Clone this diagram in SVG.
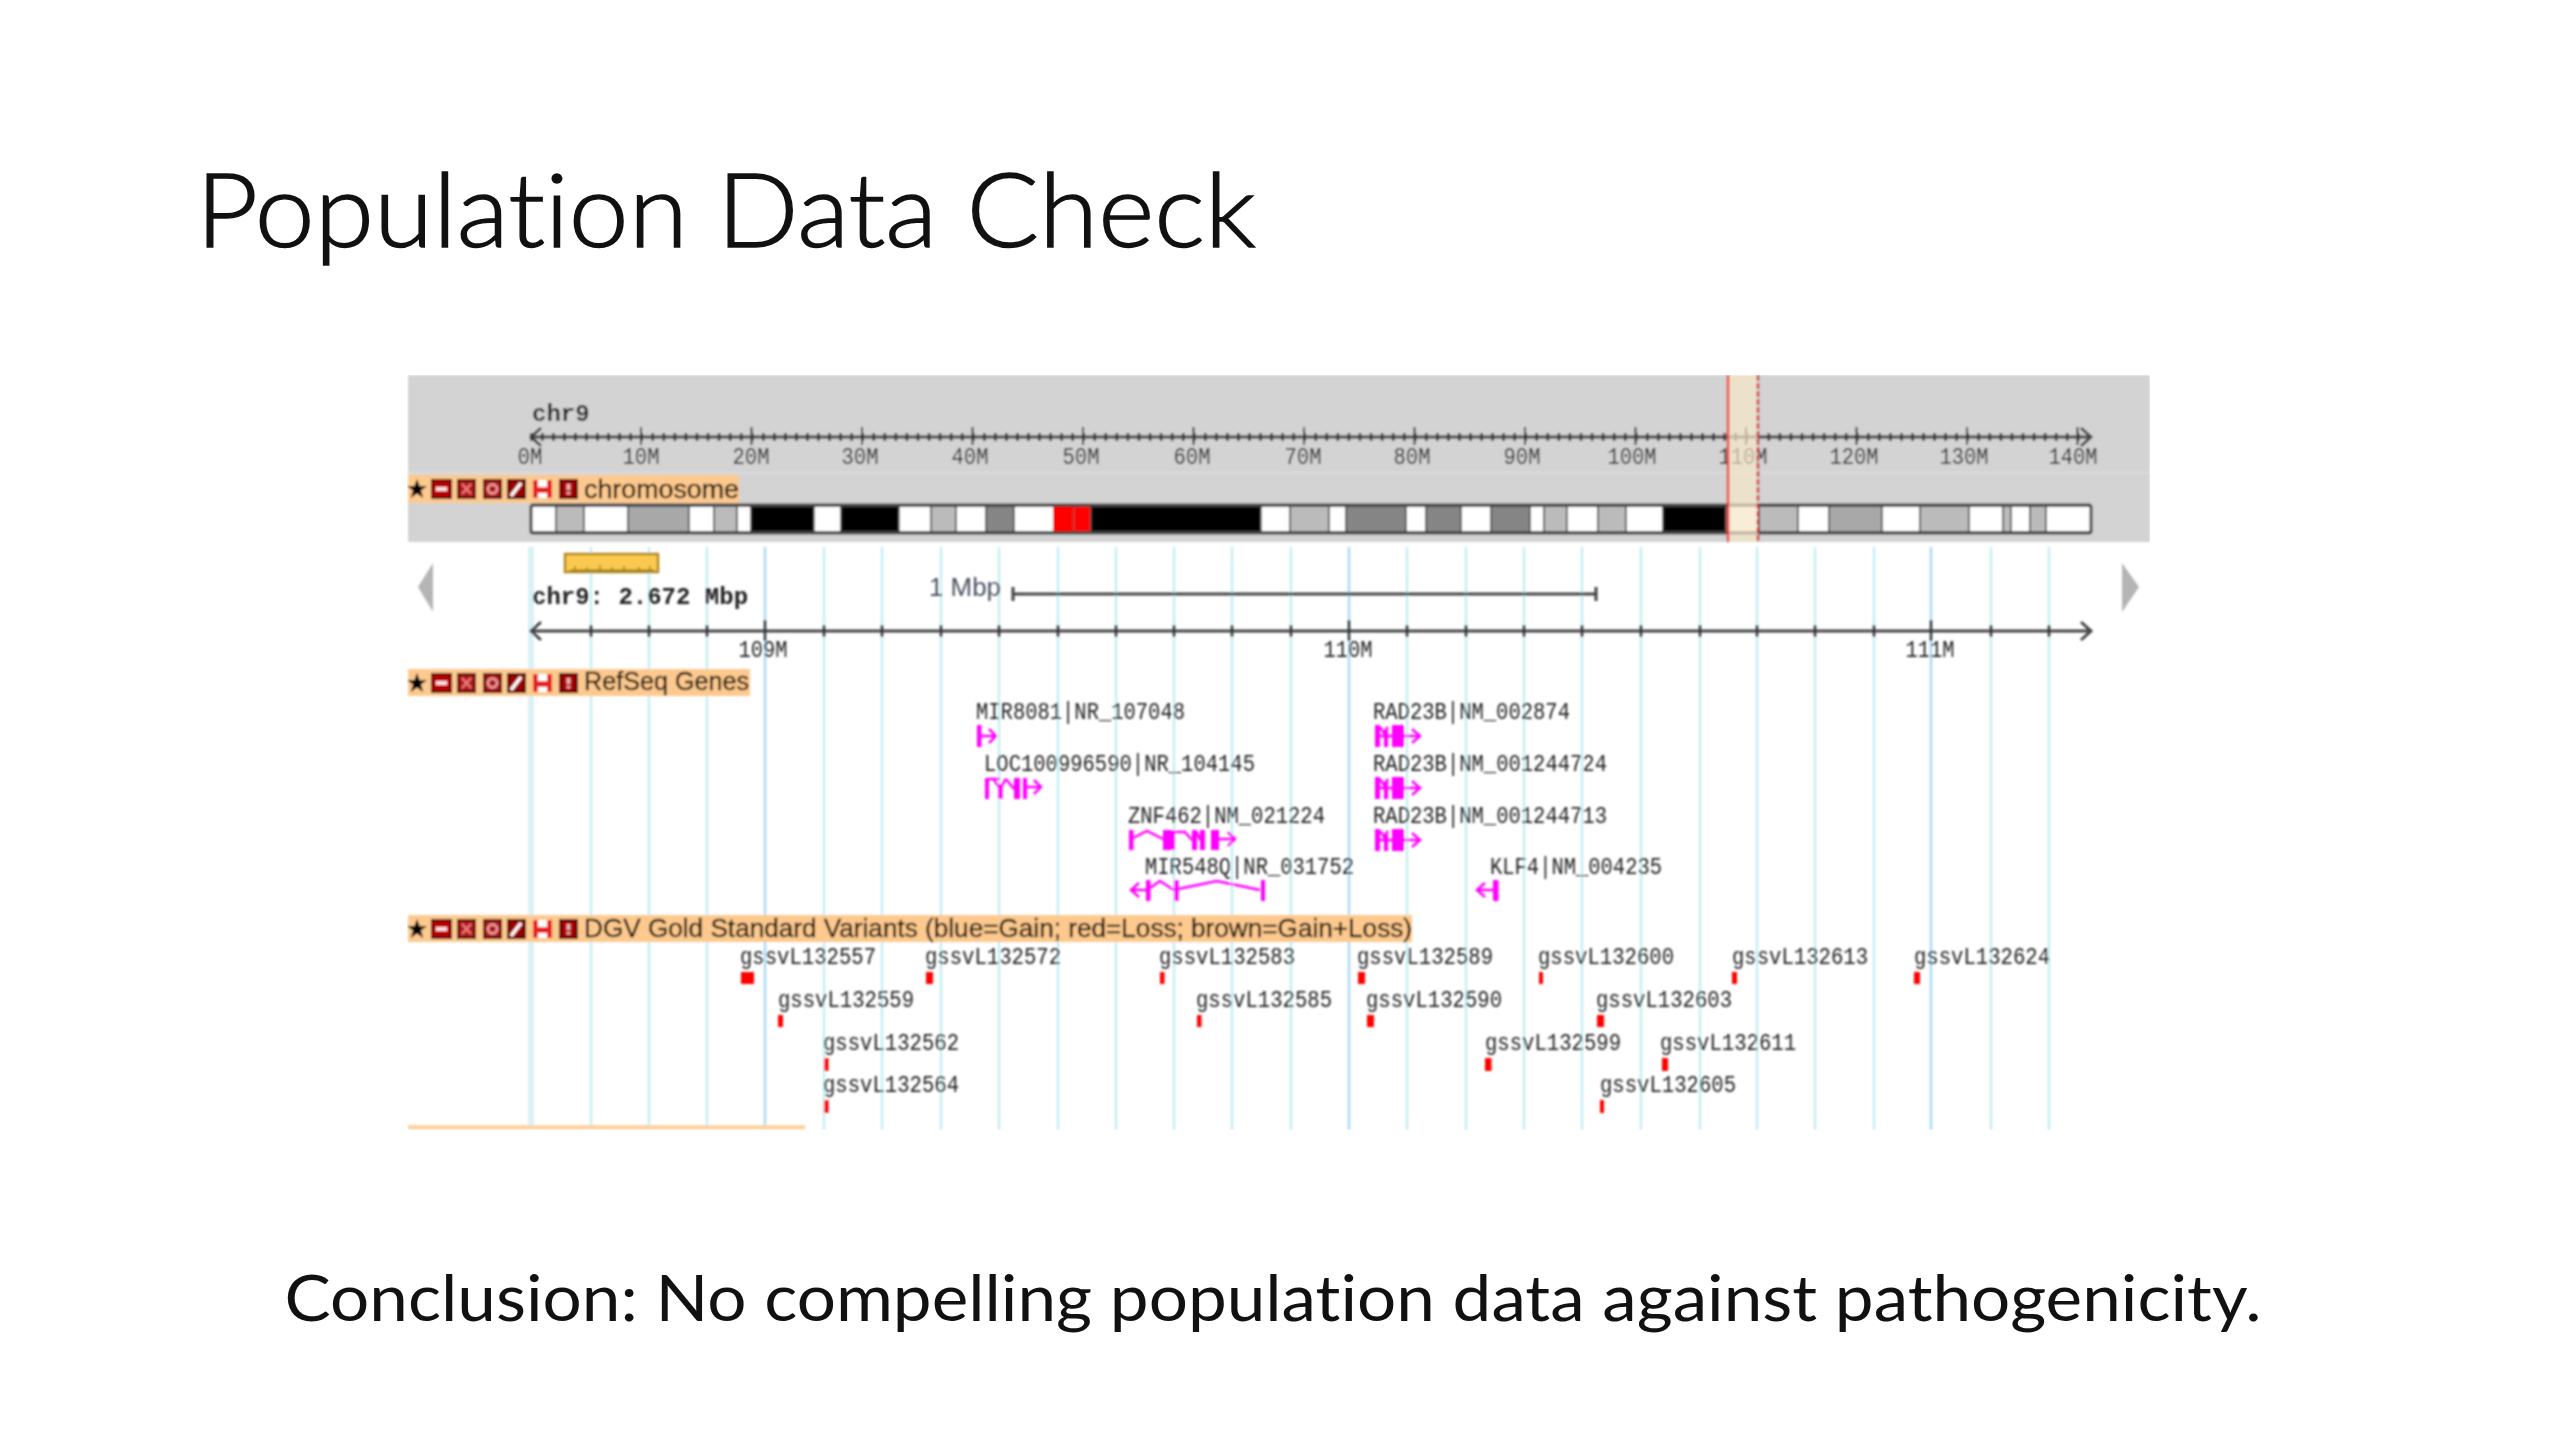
<svg xmlns="http://www.w3.org/2000/svg" xmlns:xlink="http://www.w3.org/1999/xlink" width="2560" height="1440" viewBox="0 0 2560 1440">
<style>
.title{font-family:"Lato","Open Sans",sans-serif;font-weight:300;fill:#111;stroke:#111;stroke-width:1.4;font-variant-ligatures:none}
.concl{font-family:"Lato","Open Sans",sans-serif;font-weight:400;fill:#111;font-variant-ligatures:none}
.m{font-family:"Liberation Mono",monospace;font-size:23px;fill:#222}
.mb{font-family:"Liberation Mono",monospace;font-size:24px;font-weight:700;fill:#222}
.s{font-family:"Liberation Sans",sans-serif;font-size:25px;fill:#120a02;stroke:#120a02;stroke-width:0.3}
.w{fill:#fff}.g1{fill:#bbb}.g2{fill:#a8a8a8}.g3{fill:#858585}.k{fill:#000}.r{fill:#f00}
.b rect{stroke:#444;stroke-width:1.5}
.gl{stroke:#c6eef2;stroke-width:2.5}
.gm{stroke:#a8daf2;stroke-width:2.5}
.ax{stroke:#444;stroke-width:3;fill:none}
.gene{stroke:#f0f;stroke-width:2.5;fill:none}
.genep{stroke:#f0f;stroke-width:2.5;stroke-opacity:0.75;fill:none}
.ex{fill:#f0f}
.tag{fill:#fdc98e}
.red{fill:#f00}
</style>
<defs>
<filter id="soft" x="0" y="0" width="1" height="1" filterUnits="objectBoundingBox"><feGaussianBlur stdDeviation="0.8"/></filter>
<g id="icons">
<polygon points="417,-10 419.6,-3 427,-3 421,1.5 423.2,9 417,4.5 410.8,9 413,1.5 407,-3 414.4,-3" fill="#000"/>
<rect x="432" y="-9" width="19" height="18" fill="#b80000" stroke="#300" stroke-width="2"/><rect x="436" y="-2" width="11" height="4" fill="#fdd"/>
<rect x="458" y="-9" width="17" height="18" fill="#a81818" stroke="#300" stroke-width="2"/><path d="M462,-5L471,5M471,-5L462,5" stroke="#e77" stroke-width="2.5"/>
<rect x="484" y="-9" width="17" height="18" fill="#a81818" stroke="#300" stroke-width="2"/><circle cx="492.500" cy="0" r="4.500" fill="none" stroke="#f0a0a0" stroke-width="2.500"/>
<rect x="508" y="-9" width="17" height="18" fill="#900" stroke="#200" stroke-width="2"/><path d="M511,7L521,-6" stroke="#fff" stroke-width="3.500"/>
<rect x="533" y="-9" width="19" height="18" fill="#e82020"/><rect x="538" y="-9" width="9" height="7" fill="#fff"/><rect x="538" y="4" width="9" height="5" fill="#fff"/>
<rect x="560" y="-9" width="17" height="18" fill="#a00000" stroke="#300" stroke-width="2"/><rect x="566.500" y="-5" width="4" height="6" fill="#f3b0b0"/><rect x="566.500" y="3" width="4" height="2.500" fill="#f3b0b0"/>
</g>
<g id="rad">
<path class="gene" d="M1376,736H1420M1412,729L1420,736L1412,743M1380,727L1384,733L1388,727"/>
<rect class="ex" x="1375" y="725" width="5" height="22"/><rect class="ex" x="1384" y="730" width="4" height="17"/><rect class="ex" x="1392" y="725" width="12" height="22"/>
</g>
</defs>
<rect id="background" x="0" y="0" width="2560" height="1440" fill="#fff"/>
<text id="title" class="title" x="196" y="247" font-size="103" textLength="1060" lengthAdjust="spacingAndGlyphs">Population Data Check</text>
<g id="browser" filter="url(#soft)">
<rect x="408" y="375" width="1742" height="167" fill="#d3d3d3"/>
<rect x="408" y="472" width="1742" height="2" fill="#dcdcdc"/>
<g id="gridlines">
<path stroke="#d9f2f5" stroke-width="6" d="M531,547V1130"/>
<path class="gl" d="M591,547V1130M649,547V1130M707,547V1130M824,547V1130M882,547V1130M941,547V1130M999,547V1130M1058,547V1130M1116,547V1130M1174,547V1130M1232,547V1130M1291,547V1130M1407,547V1130M1466,547V1130M1524,547V1130M1582,547V1130M1641,547V1130M1700,547V1130M1757,547V1130M1815,547V1130M1874,547V1130M1991,547V1130M2049,547V1130"/>
<path class="gm" d="M765,547V1130M1349,547V1130M1931,547V1130"/>
</g>
<g id="chromosome-ruler">
<text class="mb" x="532" y="421">chr9</text>
<path class="ax" d="M531,437H2091M541,428L531,437L541,446M2081,428L2091,437L2081,446"/>
<path stroke="#333" stroke-width="8" stroke-dasharray="2.500 8.550" d="M530,437H2085" fill="none"/>
<path stroke="#333" stroke-width="18" stroke-dasharray="2 108.500" d="M640,436H2080" fill="none"/>
<g class="m" text-anchor="middle">
<text x="530" y="464" textLength="25" lengthAdjust="spacingAndGlyphs">0M</text><text x="641" y="464" textLength="37" lengthAdjust="spacingAndGlyphs">10M</text><text x="751" y="464" textLength="37" lengthAdjust="spacingAndGlyphs">20M</text><text x="860" y="464" textLength="37" lengthAdjust="spacingAndGlyphs">30M</text><text x="970" y="464" textLength="37" lengthAdjust="spacingAndGlyphs">40M</text><text x="1081" y="464" textLength="37" lengthAdjust="spacingAndGlyphs">50M</text><text x="1192" y="464" textLength="37" lengthAdjust="spacingAndGlyphs">60M</text><text x="1303" y="464" textLength="37" lengthAdjust="spacingAndGlyphs">70M</text><text x="1412" y="464" textLength="37" lengthAdjust="spacingAndGlyphs">80M</text><text x="1522" y="464" textLength="37" lengthAdjust="spacingAndGlyphs">90M</text><text x="1632" y="464" textLength="49" lengthAdjust="spacingAndGlyphs">100M</text><text x="1743" y="464" textLength="49" lengthAdjust="spacingAndGlyphs">110M</text><text x="1854" y="464" textLength="49" lengthAdjust="spacingAndGlyphs">120M</text><text x="1964" y="464" textLength="49" lengthAdjust="spacingAndGlyphs">130M</text><text x="2073" y="464" textLength="49" lengthAdjust="spacingAndGlyphs">140M</text>
</g>
</g>
<g id="chromosome-track">
<rect class="tag" x="408" y="475" width="331" height="28"/>
<use href="#icons" xlink:href="#icons" x="0" y="489"/>
<text class="s" x="584" y="498" textLength="155" lengthAdjust="spacingAndGlyphs">chromosome</text>
<g id="bands" class="b">
<rect class="w" x="531" y="506" width="25" height="26"/><rect class="g1" x="556" y="506" width="28" height="26"/><rect class="w" x="584" y="506" width="44" height="26"/><rect class="g2" x="628" y="506" width="61" height="26"/><rect class="w" x="689" y="506" width="25" height="26"/><rect class="g1" x="714" y="506" width="23" height="26"/><rect class="w" x="737" y="506" width="14" height="26"/><rect class="k" x="751" y="506" width="63" height="26"/><rect class="w" x="814" y="506" width="27" height="26"/><rect class="k" x="841" y="506" width="58" height="26"/><rect class="w" x="899" y="506" width="32" height="26"/><rect class="g1" x="931" y="506" width="25" height="26"/><rect class="w" x="956" y="506" width="30" height="26"/><rect class="g3" x="986" y="506" width="28" height="26"/><rect class="w" x="1014" y="506" width="40" height="26"/><rect class="r" x="1054" y="506" width="19" height="26" style="stroke:#e00"/><rect class="r" x="1074" y="506" width="17" height="26" style="stroke:#c33"/><rect class="k" x="1091" y="506" width="170" height="26"/><rect class="w" x="1261" y="506" width="29" height="26"/><rect class="g1" x="1290" y="506" width="39" height="26"/><rect class="w" x="1329" y="506" width="17" height="26"/><rect class="g3" x="1346" y="506" width="60" height="26"/><rect class="w" x="1406" y="506" width="20" height="26"/><rect class="g3" x="1426" y="506" width="35" height="26"/><rect class="w" x="1461" y="506" width="30" height="26"/><rect class="g3" x="1491" y="506" width="39" height="26"/><rect class="w" x="1530" y="506" width="14" height="26"/><rect class="g1" x="1544" y="506" width="23" height="26"/><rect class="w" x="1567" y="506" width="31" height="26"/><rect class="g1" x="1598" y="506" width="28" height="26"/><rect class="w" x="1626" y="506" width="37" height="26"/><rect class="k" x="1663" y="506" width="63" height="26"/><rect class="w" x="1726" y="506" width="33" height="26"/><rect class="g1" x="1759" y="506" width="39" height="26"/><rect class="w" x="1798" y="506" width="31" height="26"/><rect class="g2" x="1829" y="506" width="53" height="26"/><rect class="w" x="1882" y="506" width="38" height="26"/><rect class="g1" x="1920" y="506" width="49" height="26"/><rect class="w" x="1969" y="506" width="34" height="26"/><rect class="g1" x="2003" y="506" width="8" height="26"/><rect class="w" x="2011" y="506" width="19" height="26"/><rect class="g1" x="2030" y="506" width="16" height="26"/><rect class="w" x="2046" y="506" width="45" height="26"/>
</g>
<rect x="531" y="505" width="1560" height="28" fill="none" stroke="#444" stroke-width="3" rx="2"/>
</g>
<g id="highlight">
<rect x="1728" y="375" width="30" height="167" fill="#f5e6c8" fill-opacity="0.72"/>
<path d="M1728,375V542" stroke="#ee3030" stroke-width="2.500"/>
<path d="M1758,375V542" stroke="#d02020" stroke-width="2.500" stroke-dasharray="6 2"/>
</g>
<g id="navigator">
<polygon points="418,587 433,563 433,612" fill="#b5b5b5"/>
<polygon points="2139,587 2122,563 2122,612" fill="#b5b5b5"/>
<rect x="565" y="554" width="93" height="18" fill="#fbc94f" stroke="#b08a20" stroke-width="2.500"/>
<path d="M570,570.500H654" stroke="#a08020" stroke-width="2"/>
<path d="M575,571V566M587,571V567M600,571V565M612,571V567M624,571V566M639,571V567M650,571V566" stroke="#a08020" stroke-width="1.500"/>
</g>
<g id="scale">
<text class="mb" x="532" y="604">chr9: 2.672 Mbp</text>
<text x="929" y="596" font-family="Liberation Sans, sans-serif" font-size="25" fill="#4a5060" textLength="72" lengthAdjust="spacingAndGlyphs">1 Mbp</text>
<path class="ax" d="M1013,594H1596M1013,587V601M1596,587V601"/>
<path class="ax" d="M531,631H2091M541,622L531,631L541,640M2081,622L2091,631L2081,640"/>
<path stroke="#333" stroke-width="2.500" d="M591,625V637M649,625V637M707,625V637M824,625V637M882,625V637M941,625V637M999,625V637M1058,625V637M1116,625V637M1174,625V637M1232,625V637M1291,625V637M1407,625V637M1466,625V637M1524,625V637M1582,625V637M1641,625V637M1700,625V637M1757,625V637M1815,625V637M1874,625V637M1991,625V637M2049,625V637M765,620V641M1349,620V641M1931,620V641"/>
<g class="m" text-anchor="middle"><text x="763" y="657" textLength="49" lengthAdjust="spacingAndGlyphs">109M</text><text x="1348" y="657" textLength="49" lengthAdjust="spacingAndGlyphs">110M</text><text x="1930" y="657" textLength="49" lengthAdjust="spacingAndGlyphs">111M</text></g>
</g>
<g id="refseq-track">
<rect class="tag" x="408" y="669" width="342" height="27"/>
<use href="#icons" xlink:href="#icons" x="0" y="683"/>
<text class="s" x="584" y="690" textLength="165" lengthAdjust="spacingAndGlyphs">RefSeq Genes</text>
<g class="m">
<text x="976" y="719" textLength="209" lengthAdjust="spacingAndGlyphs">MIR8081|NR_107048</text>
<text x="984" y="771" textLength="271" lengthAdjust="spacingAndGlyphs">LOC100996590|NR_104145</text>
<text x="1128" y="823" textLength="197" lengthAdjust="spacingAndGlyphs">ZNF462|NM_021224</text>
<text x="1145" y="874" textLength="209" lengthAdjust="spacingAndGlyphs">MIR548Q|NR_031752</text>
<text x="1373" y="719" textLength="197" lengthAdjust="spacingAndGlyphs">RAD23B|NM_002874</text>
<text x="1373" y="771" textLength="234" lengthAdjust="spacingAndGlyphs">RAD23B|NM_001244724</text>
<text x="1373" y="823" textLength="234" lengthAdjust="spacingAndGlyphs">RAD23B|NM_001244713</text>
<text x="1490" y="874" textLength="172" lengthAdjust="spacingAndGlyphs">KLF4|NM_004235</text>
</g>
<g id="gene-MIR8081"><rect class="ex" x="977" y="725" width="4.500" height="22"/><path class="gene" d="M979,736H996M989,729L996,736L989,743"/></g>
<g id="gene-LOC">
<path class="gene" d="M1027,787H1041M1034,780L1041,787L1034,794M988,779L1000,779M994,780L1000,788L1006,779M1006,779L1014,789"/>
<rect class="ex" x="985" y="778" width="4" height="21"/><rect class="ex" x="998" y="784" width="4.500" height="15"/><rect class="ex" x="1014" y="778" width="6" height="21"/><rect class="ex" x="1023" y="778" width="4" height="21"/>
</g>
<g id="gene-ZNF462">
<path class="gene" d="M1133,838L1147,831L1163,839M1175,832L1185,832L1192,840M1197,832L1200,840M1219,839H1235M1228,832L1235,839L1228,846"/>
<rect class="ex" x="1129" y="830" width="4.500" height="20"/><rect class="ex" x="1163" y="830" width="12" height="20"/><rect class="ex" x="1192" y="830" width="5" height="20"/><rect class="ex" x="1200" y="830" width="5" height="20"/><rect class="ex" x="1211" y="830" width="8" height="20"/>
</g>
<g id="gene-MIR548Q">
<path class="gene" d="M1131,890H1148M1139,883L1131,890L1139,897M1150,888L1160,881L1174,890M1178,889L1217,881L1260,890"/>
<rect class="ex" x="1146" y="880" width="4.500" height="21"/><rect class="ex" x="1174" y="880" width="4.500" height="21"/><rect class="ex" x="1261" y="880" width="4" height="21"/>
</g>
<use id="gene-RAD23B-1" href="#rad" xlink:href="#rad"/>
<use id="gene-RAD23B-2" href="#rad" xlink:href="#rad" y="52"/>
<use id="gene-RAD23B-3" href="#rad" xlink:href="#rad" y="104"/>
<g id="gene-KLF4"><path class="gene" d="M1477,890H1495M1485,883L1477,890L1485,897"/><rect class="ex" x="1493" y="880" width="5.500" height="21"/></g>
</g>
<g id="dgv-track">
<rect class="tag" x="408" y="915" width="1004" height="27"/>
<use href="#icons" xlink:href="#icons" x="0" y="929"/>
<text class="s" x="584" y="937" textLength="828" lengthAdjust="spacingAndGlyphs">DGV Gold Standard Variants (blue=Gain; red=Loss; brown=Gain+Loss)</text>
<g class="m">
<text x="740" y="964" textLength="136" lengthAdjust="spacingAndGlyphs">gssvL132557</text><text x="925" y="964" textLength="136" lengthAdjust="spacingAndGlyphs">gssvL132572</text><text x="1159" y="964" textLength="136" lengthAdjust="spacingAndGlyphs">gssvL132583</text><text x="1357" y="964" textLength="136" lengthAdjust="spacingAndGlyphs">gssvL132589</text><text x="1538" y="964" textLength="136" lengthAdjust="spacingAndGlyphs">gssvL132600</text><text x="1732" y="964" textLength="136" lengthAdjust="spacingAndGlyphs">gssvL132613</text><text x="1914" y="964" textLength="136" lengthAdjust="spacingAndGlyphs">gssvL132624</text>
<text x="778" y="1007" textLength="136" lengthAdjust="spacingAndGlyphs">gssvL132559</text><text x="1196" y="1007" textLength="136" lengthAdjust="spacingAndGlyphs">gssvL132585</text><text x="1366" y="1007" textLength="136" lengthAdjust="spacingAndGlyphs">gssvL132590</text><text x="1596" y="1007" textLength="136" lengthAdjust="spacingAndGlyphs">gssvL132603</text>
<text x="823" y="1050" textLength="136" lengthAdjust="spacingAndGlyphs">gssvL132562</text><text x="1485" y="1050" textLength="136" lengthAdjust="spacingAndGlyphs">gssvL132599</text><text x="1660" y="1050" textLength="136" lengthAdjust="spacingAndGlyphs">gssvL132611</text>
<text x="823" y="1092" textLength="136" lengthAdjust="spacingAndGlyphs">gssvL132564</text><text x="1600" y="1092" textLength="136" lengthAdjust="spacingAndGlyphs">gssvL132605</text>
</g>
<g id="variants">
<rect class="red" x="741" y="972" width="13" height="12"/><rect class="red" x="926" y="972" width="7" height="12"/><rect class="red" x="1160" y="972" width="4.500" height="12"/><rect class="red" x="1358" y="972" width="7" height="12"/><rect class="red" x="1539" y="972" width="4" height="12"/><rect class="red" x="1732" y="972" width="5" height="12"/><rect class="red" x="1914" y="972" width="6" height="12"/>
<rect class="red" x="778" y="1015" width="5" height="12"/><rect class="red" x="1197" y="1015" width="4.500" height="12"/><rect class="red" x="1367" y="1015" width="7" height="12"/><rect class="red" x="1597" y="1015" width="7" height="12"/>
<rect class="red" x="824" y="1058" width="4.500" height="13"/><rect class="red" x="1485" y="1058" width="6.500" height="13"/><rect class="red" x="1662" y="1058" width="6" height="13"/>
<rect class="red" x="824" y="1100" width="4.500" height="13"/><rect class="red" x="1600" y="1100" width="4" height="13"/>
</g>
<rect x="408" y="1125" width="397" height="4.500" fill="#fdd3a0"/>
</g>
</g>
<text id="conclusion" class="concl" x="284.500" y="1321" font-size="64" textLength="1977" lengthAdjust="spacingAndGlyphs">Conclusion: No compelling population data against pathogenicity.</text>
</svg>
